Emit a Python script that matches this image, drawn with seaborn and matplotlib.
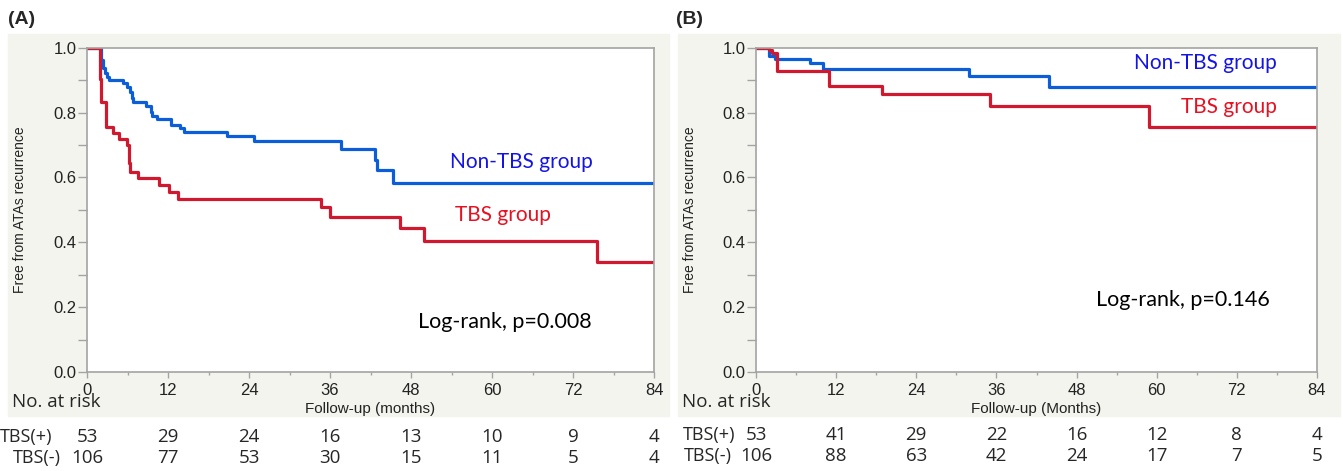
import pandas as pd
import matplotlib.pyplot as plt
import seaborn as sns
from matplotlib.patches import Rectangle
from matplotlib.ticker import MultipleLocator

# (A) curves (months, survival)
a_non_time = [0, 2.0, 2.3, 2.7, 2.9, 3.3, 5.3, 5.9, 6.3, 6.6, 6.8, 8.8, 9.5, 9.7, 10.3,
              12.4, 13.8, 14.4, 20.7, 24.7, 37.6, 42.6, 42.9, 45.4, 84]
a_non_surv = [1.0, 0.962, 0.937, 0.921, 0.911, 0.900, 0.890, 0.878, 0.864, 0.844, 0.833,
              0.820, 0.803, 0.789, 0.779, 0.762, 0.751, 0.739, 0.728, 0.713, 0.689, 0.654,
              0.623, 0.583, 0.583]
a_tbs_time = [0, 1.9, 2.0, 2.8, 3.8, 4.8, 5.9, 6.2, 6.4, 7.6, 10.6, 12.2, 13.5, 34.6,
              36.0, 46.4, 49.9, 75.6, 84]
a_tbs_surv = [1.0, 0.905, 0.833, 0.757, 0.738, 0.717, 0.700, 0.643, 0.618, 0.599, 0.577,
              0.554, 0.533, 0.508, 0.479, 0.443, 0.405, 0.338, 0.338]

# (B)
b_non_time = [0, 1.95, 2.9, 8.1, 10.1, 31.9, 43.9, 84]
b_non_surv = [1.0, 0.975, 0.964, 0.952, 0.933, 0.913, 0.880, 0.880]
b_tbs_time = [0, 1.95, 2.4, 3.1, 10.9, 18.9, 35.0, 58.8, 84]
b_tbs_surv = [1.0, 0.992, 0.985, 0.928, 0.883, 0.857, 0.821, 0.755, 0.755]

# number at risk
risk_months = [0, 12, 24, 36, 48, 60, 72, 84]
a_risk_pos = [53, 29, 24, 16, 13, 10, 9, 4]
a_risk_neg = [106, 77, 53, 30, 15, 11, 5, 4]
b_risk_pos = [53, 41, 29, 22, 16, 12, 8, 4]
b_risk_neg = [106, 88, 63, 42, 24, 17, 7, 5]

blue_line = '#0b5ed7'
red_line = '#d0192f'
grey = '#a3a3a3'
bg = '#f4f4ef'

sns.set_style('white')
plt.rcParams['font.family'] = ['Liberation Sans', 'DejaVu Sans']
calib = ['Lato', 'DejaVu Sans']
table_font = ['Open Sans', 'DejaVu Sans']

W, H = 1343, 471
fig = plt.figure(figsize=(W / 100, H / 100), dpi=100)

# grey panels behind each plot
fig.patches.append(Rectangle((8 / W, 1 - 416 / H), 661 / W, 382 / H,
                             transform=fig.transFigure, color=bg, zorder=-5))
fig.patches.append(Rectangle((678 / W, 1 - 416 / H), 662 / W, 382 / H,
                             transform=fig.transFigure, color=bg, zorder=-5))


def panel(left_px, right_px, non_t, non_s, tbs_t, tbs_s, xlabel):
    ax = fig.add_axes([left_px / W, 1 - 372 / H, (right_px - left_px) / W, 324.3 / H])
    ax.set_facecolor('white')
    df_non = pd.DataFrame({'month': non_t, 'surv': non_s})
    df_tbs = pd.DataFrame({'month': tbs_t, 'surv': tbs_s})
    sns.lineplot(data=df_non, x='month', y='surv', ax=ax, color=blue_line, lw=2.3,
                 drawstyle='steps-post', estimator=None, sort=False)
    sns.lineplot(data=df_tbs, x='month', y='surv', ax=ax, color=red_line, lw=2.3,
                 drawstyle='steps-post', estimator=None, sort=False)
    ax.set_xlim(0, 84)
    ax.set_ylim(0, 1.0)
    ax.xaxis.set_major_locator(MultipleLocator(12))
    ax.xaxis.set_minor_locator(MultipleLocator(6))
    ax.yaxis.set_major_locator(MultipleLocator(0.2))
    ax.yaxis.set_minor_locator(MultipleLocator(0.1))
    ax.yaxis.set_major_formatter(plt.FormatStrFormatter('%.1f'))
    ax.tick_params(which='both', direction='out', color=grey, width=1,
                   labelsize=12, labelcolor='#222222')
    ax.tick_params(axis='x', which='major', bottom=True, length=4, pad=4)
    ax.tick_params(axis='x', which='minor', bottom=True, length=2.5)
    ax.tick_params(axis='y', which='both', left=True, length=6.5, pad=1)
    for s in ax.spines.values():
        s.set_color(grey)
        s.set_linewidth(1.2)
    ax.set_xlabel(xlabel, fontsize=11, labelpad=3, color='#222222')
    ax.set_ylabel('Free from ATAs recurrence', fontsize=10, color='#222222')
    ax.yaxis.set_label_coords(-0.105, 0.5)
    return ax


ax_a = panel(87, 654, a_non_time, a_non_surv, a_tbs_time, a_tbs_surv, 'Follow-up (months)')
ax_b = panel(756, 1317, b_non_time, b_non_surv, b_tbs_time, b_tbs_surv, 'Follow-up (Months)')

ax_a.text(64.4, 0.648, 'Non-TBS group', color='#1414e6', fontsize=15, family=calib,
          ha='center', va='center')
ax_a.text(61.6, 0.484, 'TBS group', color='#e81020', fontsize=15, family=calib,
          ha='center', va='center')
ax_a.text(61.9, 0.154, 'Log-rank, p=0.008', color='black', fontsize=15.5, family=calib,
          ha='center', va='center')

ax_b.text(78.0, 0.953, 'Non-TBS group', color='#1414e6', fontsize=15, family=calib,
          ha='right', va='center')
ax_b.text(78.0, 0.817, 'TBS group', color='#e81020', fontsize=15, family=calib,
          ha='right', va='center')
ax_b.text(63.9, 0.222, 'Log-rank, p=0.146', color='black', fontsize=15.5, family=calib,
          ha='center', va='center')

fig.text(8 / W, 1 - 19 / H, '(A)', fontsize=14, weight='bold', va='center')
fig.text(676 / W, 1 - 19 / H, '(B)', fontsize=14, weight='bold', va='center')

fig.text(12 / W, 1 - 402 / H, 'No. at risk', fontsize=13.5, family=table_font, va='center')
fig.text(682 / W, 1 - 402 / H, 'No. at risk', fontsize=13.5, family=table_font, va='center')

# risk table rows under each panel
for ax, pos, neg, x_lab, x_lab2, y1, y2 in [(ax_a, a_risk_pos, a_risk_neg, 0, 13, 437, 458),
                                            (ax_b, b_risk_pos, b_risk_neg, 683, 684, 435, 456)]:
    fig.text(x_lab / W, 1 - y1 / H, 'TBS(+)', fontsize=13, family=table_font, va='center')
    fig.text(x_lab2 / W, 1 - y2 / H, 'TBS(-)', fontsize=13, family=table_font, va='center')
    for m, p, n in zip(risk_months, pos, neg):
        xf = fig.transFigure.inverted().transform(ax.transData.transform((m, 0)))[0]
        fig.text(xf, 1 - y1 / H, str(p), fontsize=13.5, family=table_font, ha='center', va='center')
        fig.text(xf, 1 - y2 / H, str(n), fontsize=13.5, family=table_font, ha='center', va='center')

fig.savefig('out.png', dpi=100)
